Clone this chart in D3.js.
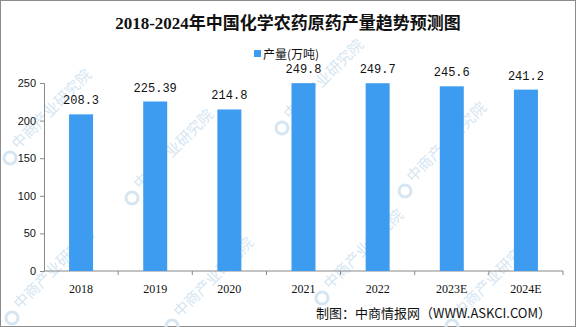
<!DOCTYPE html>
<html><head><meta charset="utf-8">
<script src="https://cdn.jsdelivr.net/npm/d3@7"></script>
<style>body{margin:0;background:#fff}svg{display:block}</style>
</head><body>
<script>
const categories = ["2018","2019","2020","2021","2022","2023E","2024E"];
const values = [208.3,225.39,214.8,249.8,249.7,245.6,241.2];
const valueLabels = ["208.3","225.39","214.8","249.8","249.7","245.6","241.2"];
const yTicks = [0,50,100,150,200,250];
const title = "2018-2024年中国化学农药原药产量趋势预测图";
const seriesName = "产量(万吨)";
const source = "制图：中商情报网（WWW.ASKCI.COM）";
const watermark = "中商产业研究院";

const W=576,H=327;
const svg=d3.select("body").append("svg").attr("width",W).attr("height",H);
svg.append("rect").attr("x",0.5).attr("y",0.5).attr("width",W-1).attr("height",H-1).attr("fill","#fff").attr("stroke","#8c8c8c");

// watermark
const wm=svg.append("g").attr("fill","#d5e6f2").attr("font-family","Noto Sans CJK SC").attr("font-size",15);
const wmPos=[[18,150],[140,190],[290,120],[413,183],[20,310],[180,318],[330,290],[460,318]];
wmPos.forEach(p=>{
  wm.append("text").attr("transform",`translate(${p[0]},${p[1]}) rotate(-45)`).text(watermark);
  wm.append("circle").attr("cx",p[0]-8).attr("cy",p[1]+8).attr("r",6).attr("fill","none").attr("stroke","#d5e6f2").attr("stroke-width",3);
});

const m={l:44,r:563,t:83,b:271};
const y=d3.scaleLinear().domain([0,250]).range([m.b,m.t]);

svg.append("text").attr("x",288).attr("y",29).attr("text-anchor","middle")
 .attr("font-family","Liberation Serif, Noto Sans CJK SC").attr("font-weight","bold").attr("font-size",17).attr("fill","#111").text(title);

svg.append("rect").attr("x",254).attr("y",50).attr("width",7).attr("height",7).attr("fill","#3d9cf0");
svg.append("text").attr("x",263).attr("y",59).attr("font-family","Noto Sans CJK SC").attr("font-size",12).attr("fill","#111").text(seriesName);

const ya=d3.axisLeft(y).tickValues(yTicks).tickSize(4).tickPadding(4);
const gy=svg.append("g").attr("transform",`translate(${m.l},0)`).call(ya);
gy.selectAll("text").attr("font-family","Liberation Sans, Arial").attr("font-size",11).attr("fill","#111");
gy.selectAll("line,path").attr("stroke","#888");

const xb=d3.scaleBand().domain(categories).range([m.l,m.r]);
const gx=svg.append("g").attr("transform",`translate(0,${m.b})`);
gx.append("line").attr("x1",m.l).attr("x2",m.r).attr("stroke","#888");
gx.selectAll("line.t").data(categories).enter().append("line").attr("class","t")
 .attr("x1",d=>xb(d)+xb.bandwidth()).attr("x2",d=>xb(d)+xb.bandwidth()).attr("y1",0).attr("y2",4).attr("stroke","#888");
gx.selectAll("text").data(categories).enter().append("text")
 .attr("x",d=>xb(d)+xb.bandwidth()/2).attr("y",22).attr("text-anchor","middle")
 .attr("font-family","Liberation Serif").attr("font-size",12).attr("fill","#111").text(d=>d);

svg.selectAll("rect.bar").data(values).enter().append("rect").attr("class","bar")
 .attr("x",(d,i)=>xb(categories[i])+xb.bandwidth()/2-12).attr("width",24)
 .attr("y",d=>y(d)).attr("height",d=>m.b-y(d)).attr("fill","#3d9cf0");

svg.selectAll("text.v").data(values).enter().append("text").attr("class","v")
 .attr("x",(d,i)=>xb(categories[i])+xb.bandwidth()/2).attr("y",d=>y(d)-10)
 .attr("text-anchor","middle").attr("font-family","Liberation Mono").attr("font-size",12).attr("fill","#111")
 .text((d,i)=>valueLabels[i]);

svg.append("text").attr("x",551).attr("y",318).attr("text-anchor","end")
 .attr("font-family","Noto Sans CJK SC").attr("font-size",13).attr("fill","#111").text(source);
</script>
</body></html>
